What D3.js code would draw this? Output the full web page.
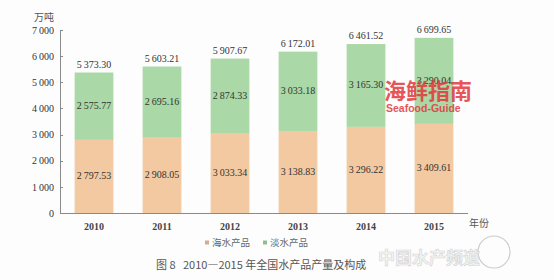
<!DOCTYPE html>
<html lang="zh">
<head>
  <meta charset="utf-8">
  <title>2010—2015 年全国水产品产量及构成</title>
  <script src="https://d3js.org/d3.v7.min.js"></script>
  <style>
    body { margin: 0; background: #fdfdfd; }
    .axis path, .axis line { stroke: #8a8a8a; shape-rendering: crispEdges; }
    .axis text { font-family: "Liberation Serif", serif; font-size: 10px; fill: #333; }
    .val { font-family: "Liberation Serif", serif; font-size: 10px; fill: #333; text-anchor: middle; }
    .cjk { font-family: "Noto Sans CJK SC", sans-serif; }
  </style>
</head>
<body>
<script>
  // data (万吨)
  var years = ["2010", "2011", "2012", "2013", "2014", "2015"];
  var seaValues = [2797.53, 2908.05, 3033.34, 3138.83, 3296.22, 3409.61];
  var freshValues = [2575.77, 2695.16, 2874.33, 3033.18, 3165.30, 3290.04];
  var totalValues = [5373.30, 5603.21, 5907.67, 6172.01, 6461.52, 6699.65];
  var yTicks = [0, 1000, 2000, 3000, 4000, 5000, 6000, 7000];
  var seriesNames = ["海水产品", "淡水产品"];

  var colors = { sea: "#f2c9a1", fresh: "#aad8a6" };

  var width = 554, height = 280;
  var margin = { top: 30, left: 60, right: 86, bottom: 67 };

  var svg = d3.select("body").append("svg")
    .attr("width", width)
    .attr("height", height);

  var x = d3.scaleBand()
    .domain(years)
    .range([margin.left, width - margin.right])
    .paddingInner(0.43)
    .paddingOuter(0.215);

  var y = d3.scaleLinear()
    .domain([0, 7000])
    .range([height - margin.bottom, margin.top]);

  // thin-space thousands, like the printed figure
  var loc = d3.formatLocale({ decimal: ".", thousands: "\u2009", grouping: [3], currency: ["", ""] });
  var fmt = loc.format(",.2f");
  var fmtTick = loc.format(",d");

  var rows = years.map(function(yr, i) {
    return { year: yr, sea: seaValues[i], fresh: freshValues[i], total: totalValues[i] };
  });

  // sea products at the bottom
  svg.selectAll("rect.sea")
    .data(rows)
    .enter().append("rect")
    .attr("class", "sea")
    .attr("x", function(d) { return x(d.year); })
    .attr("width", x.bandwidth())
    .attr("y", function(d) { return y(d.sea); })
    .attr("height", function(d) { return y(0) - y(d.sea); })
    .attr("fill", colors.sea);

  // freshwater on top
  svg.selectAll("rect.fresh")
    .data(rows)
    .enter().append("rect")
    .attr("class", "fresh")
    .attr("x", function(d) { return x(d.year); })
    .attr("width", x.bandwidth())
    .attr("y", function(d) { return y(d.sea + d.fresh); })
    .attr("height", function(d) { return y(d.sea) - y(d.sea + d.fresh); })
    .attr("fill", colors.fresh);

  // axes
  var yAxis = d3.axisLeft(y).tickValues(yTicks).tickFormat(fmtTick).tickSize(-3).tickPadding(6);
  svg.append("g")
    .attr("class", "axis")
    .attr("transform", "translate(" + margin.left + ",0)")
    .call(yAxis)
    .call(function(g) { g.select(".domain").attr("d", "M0," + y(7000) + "V" + y(0)); });

  var xAxis = d3.axisBottom(x).tickSize(0).tickPadding(10);
  svg.append("g")
    .attr("class", "axis")
    .attr("transform", "translate(0," + y(0) + ")")
    .call(xAxis)
    .call(function(g) {
      g.select(".domain").attr("d", "M" + margin.left + ",0H" + (width - margin.right));
      g.selectAll("text").style("font-weight", "bold").style("fill", "#444");
    });

  // value labels
  svg.selectAll("text.seaVal")
    .data(rows)
    .enter().append("text")
    .attr("class", "val")
    .attr("x", function(d) { return x(d.year) + x.bandwidth() / 2; })
    .attr("y", function(d) { return y(d.sea / 2) + 3; })
    .text(function(d) { return fmt(d.sea); });

  svg.selectAll("text.freshVal")
    .data(rows)
    .enter().append("text")
    .attr("class", "val")
    .attr("x", function(d) { return x(d.year) + x.bandwidth() / 2; })
    .attr("y", function(d) { return y(d.sea + d.fresh / 2) + 3; })
    .text(function(d) { return fmt(d.fresh); });

  svg.selectAll("text.totVal")
    .data(rows)
    .enter().append("text")
    .attr("class", "val")
    .attr("x", function(d) { return x(d.year) + x.bandwidth() / 2; })
    .attr("y", function(d) { return y(d.total) - 5; })
    .text(function(d) { return fmt(d.total); });

  // unit labels
  svg.append("text").attr("class", "cjk")
    .attr("x", 34).attr("y", 21)
    .style("font-size", "10px").style("fill", "#555")
    .text("万吨");
  svg.append("text").attr("class", "cjk")
    .attr("x", width - margin.right + 1).attr("y", 227)
    .style("font-size", "10px").style("fill", "#555")
    .text("年份");

  // legend
  var legend = svg.append("g").attr("transform", "translate(205,246)");
  [colors.sea, colors.fresh].forEach(function(c, i) {
    var g = legend.append("g").attr("transform", "translate(" + (i * 58) + ",0)");
    g.append("rect").attr("x", 0).attr("y", -5.5).attr("width", 4).attr("height", 4)
      .attr("fill", d3.color(c).darker(0.4));
    g.append("text").attr("class", "cjk")
      .attr("x", 7).attr("y", 0)
      .style("font-size", "9.5px").style("fill", "#666")
      .text(seriesNames[i]);
  });

  // caption
  svg.append("text").attr("class", "cjk")
    .attr("x", 156).attr("y", 269)
    .style("font-size", "11px").style("fill", "#555")
    .text("图 8\u00a0\u00a0\u00a02010—2015 年全国水产品产量及构成");

  // watermarks
  svg.append("text").attr("class", "cjk")
    .attr("x", 384).attr("y", 99)
    .style("font-size", "22px").style("font-weight", "bold").style("fill", "#e2383c")
    .style("opacity", 0.85)
    .text("海鲜指南");
  svg.append("text")
    .attr("x", 386).attr("y", 112)
    .style("font-family", "'Liberation Sans', sans-serif")
    .style("font-size", "10.5px").style("font-weight", "bold").style("fill", "#e2383c")
    .style("opacity", 0.85)
    .text("Seafood-Guide");

  svg.append("circle")
    .attr("cx", 494).attr("cy", 252).attr("r", 16)
    .attr("fill", "none").attr("stroke", "#ccc").attr("stroke-width", 1.2);
  svg.append("text").attr("class", "cjk")
    .attr("x", 378).attr("y", 264)
    .style("font-size", "17px").style("font-weight", "bold")
    .style("fill", "#f4f4f4").style("stroke", "#d4d4d4").style("stroke-width", 0.6)
    .text("中国水产频道");
</script>
</body>
</html>
